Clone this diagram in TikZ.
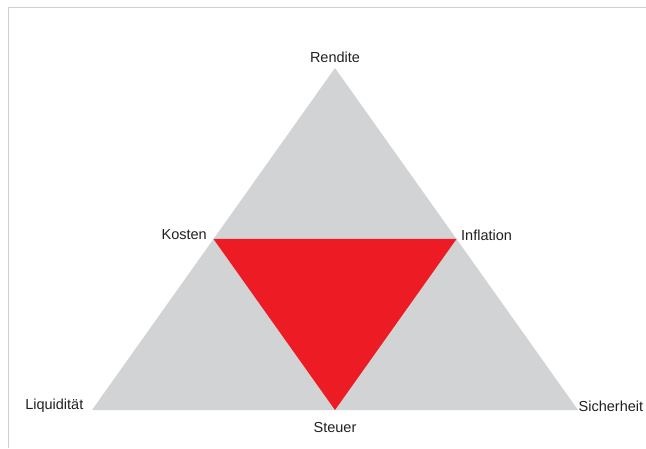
\documentclass[tikz,border=0pt]{standalone}
\usepackage{fontspec}
\setmainfont{Liberation Sans}
\usetikzlibrary{calc}
\definecolor{framegray}{HTML}{CFCFCF}
\definecolor{outerfill}{HTML}{D1D3D4}
\definecolor{innerfill}{HTML}{ED1C24}
\definecolor{ink}{HTML}{231F20}

\begin{document}
\begin{tikzpicture}[
  x=1pt, y=1pt,
  corner/.style={text=ink, font=\fontsize{14.5}{16}\selectfont, inner sep=0.5pt},
  rim/.style={draw=framegray, line width=0.8pt}
]
\useasboundingbox (0,0) rectangle (646,448);

% frame
\coordinate (tl) at (8,440.5);
\coordinate (tr) at (646,440.5);
\coordinate (bl) at (8,0);
\draw[rim] (tr) -- (tl) -- (bl);

% outer triangle
\coordinate (top) at (335,380);
\coordinate (left) at (92,38);
\coordinate (right) at (578,38);
\fill[outerfill] (top) -- (left) -- (right) -- cycle;

% inner triangle from the midpoints
\coordinate (midl) at ($(top)!0.5!(left)$);
\coordinate (midr) at ($(top)!0.5!(right)$);
\coordinate (midb) at ($(left)!0.5!(right)$);
\fill[innerfill] (midl) -- (midr) -- (midb) -- cycle;

\node[corner, anchor=south] (rendite) at ($(top)+(0,5)$) {Rendite};
\node[corner, anchor=east] (kosten) at ($(midl)+(-6,4)$) {Kosten};
\node[corner, anchor=west] (inflation) at ($(midr)+(4,4)$) {Inflation};
\node[corner, anchor=east] (liquiditaet) at ($(left)+(-8,4)$) {Liquidität};
\node[corner, anchor=west] (sicherheit) at ($(right)+(0,4)$) {Sicherheit};
\node[corner, anchor=north] (steuer) at ($(midb)+(0,-12)$) {Steuer};
\end{tikzpicture}
\end{document}
